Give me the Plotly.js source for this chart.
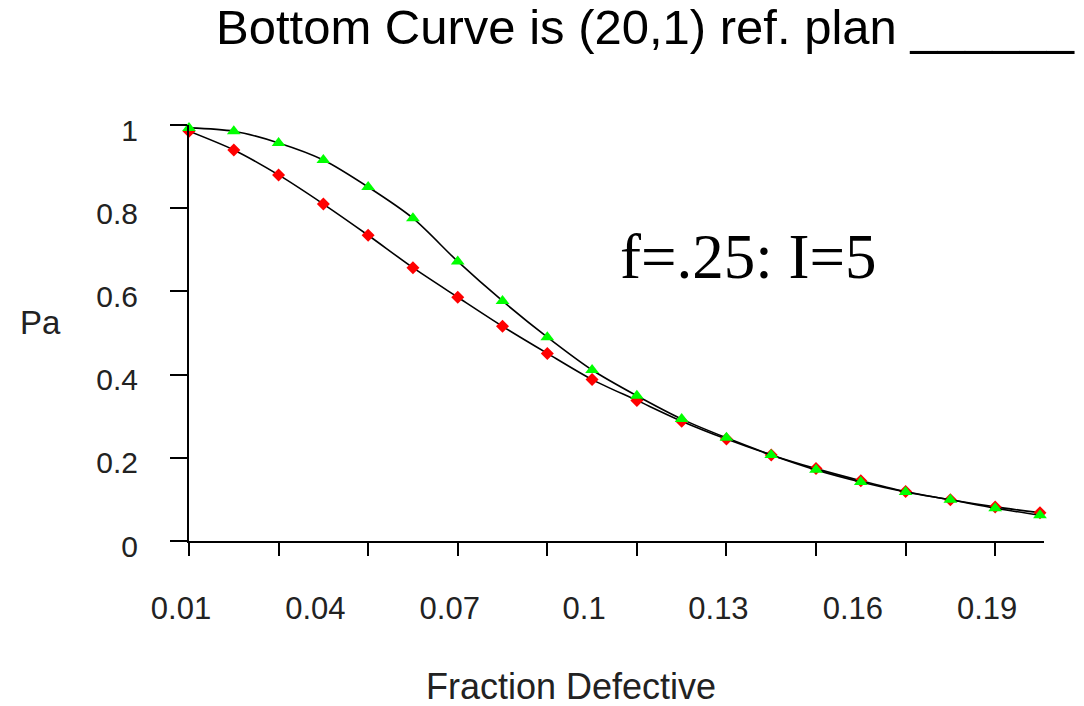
<!DOCTYPE html>
<html>
<head>
<meta charset="utf-8">
<script src="https://cdn.plot.ly/plotly-3.0.1.min.js"></script>
<style>
  html, body { margin: 0; padding: 0; background: #fff; }
  #chart { width: 1084px; height: 706px; }
</style>
</head>
<body>
<div id="chart"></div>
<script>
// Fraction defective (x) values
const fractionDefective = [0.01, 0.02, 0.03, 0.04, 0.05, 0.06, 0.07, 0.08, 0.09, 0.10,
                           0.11, 0.12, 0.13, 0.14, 0.15, 0.16, 0.17, 0.18, 0.19, 0.20];
// Bottom curve: (20,1) reference plan
const paReference = [0.985, 0.940, 0.880, 0.810, 0.735, 0.657, 0.586, 0.516, 0.451, 0.388,
                     0.338, 0.288, 0.245, 0.207, 0.174, 0.145, 0.119, 0.099, 0.082, 0.068];
// Top curve: f=.25, I=5
const paSkipLot = [0.993, 0.985, 0.957, 0.916, 0.851, 0.776, 0.672, 0.577, 0.490, 0.411,
                   0.349, 0.293, 0.248, 0.207, 0.171, 0.142, 0.118, 0.099, 0.079, 0.062];
// Axis tick labels
const xTickVals = [0.01, 0.04, 0.07, 0.10, 0.13, 0.16, 0.19];
const xTickText = ["0.01", "0.04", "0.07", "0.1", "0.13", "0.16", "0.19"];
const xTickMarks = [0.01, 0.03, 0.05, 0.07, 0.09, 0.11, 0.13, 0.15, 0.17, 0.19];
const yTickVals = [0, 0.2, 0.4, 0.6, 0.8, 1];
const yTickText = ["0", "0.2", "0.4", "0.6", "0.8", "1"];

const sans = "Arial, 'Liberation Sans', sans-serif";
const xRange = [0.01, 0.2009];

const traces = [
  {
    x: fractionDefective, y: paReference, type: 'scatter', mode: 'lines+markers',
    line: { color: '#000000', width: 1.6, shape: 'spline', smoothing: 0.8 },
    marker: { symbol: 'diamond', size: 10, color: '#ff0000' },
    cliponaxis: false, showlegend: false, hoverinfo: 'x+y'
  },
  {
    x: fractionDefective, y: paSkipLot, type: 'scatter', mode: 'lines+markers',
    line: { color: '#000000', width: 1.6, shape: 'spline', smoothing: 0.8 },
    marker: { symbol: 'triangle-up', size: 12, color: '#00ff00' },
    cliponaxis: false, showlegend: false, hoverinfo: 'x+y'
  },
  {
    x: [xRange[0]], y: [null], xaxis: 'x2', yaxis: 'y', type: 'scatter', mode: 'markers',
    showlegend: false, hoverinfo: 'skip'
  }
];

const layout = {
  width: 1084, height: 706,
  paper_bgcolor: '#ffffff', plot_bgcolor: '#ffffff',
  margin: { l: 189, r: 40, t: 125, b: 165 },
  showlegend: false,
  title: {
    text: 'Bottom Curve is (20,1) ref. plan ______',
    font: { family: sans, size: 49, color: '#000000' },
    xref: 'container', yref: 'container',
    x: 216 / 1084, xanchor: 'left',
    y: 1 - 27 / 706, yanchor: 'middle'
  },
  xaxis: {
    type: 'linear', range: xRange, fixedrange: true,
    showgrid: false, zeroline: false,
    showline: true, linecolor: '#000000', linewidth: 2,
    tickmode: 'array', tickvals: xTickVals, ticktext: xTickText,
    ticks: '', ticklabelstandoff: 39, ticklabelshift: -8,
    tickfont: { family: sans, size: 31, color: '#222222' }
  },
  xaxis2: {
    type: 'linear', range: xRange, overlaying: 'x', anchor: 'y', side: 'bottom',
    fixedrange: true, showgrid: false, zeroline: false, showline: false,
    tickmode: 'array', tickvals: xTickMarks,
    ticks: 'outside', ticklen: 14, tickwidth: 2, tickcolor: '#000000',
    showticklabels: false
  },
  yaxis: {
    range: [0, 1], fixedrange: true,
    showgrid: false, zeroline: false,
    showline: true, linecolor: '#000000', linewidth: 2,
    tickmode: 'array', tickvals: yTickVals, ticktext: yTickText,
    ticks: 'outside', ticklen: 17, tickwidth: 2, tickcolor: '#000000',
    ticklabelstandoff: 26, ticklabelshift: 5,
    tickfont: { family: sans, size: 30, color: '#222222' }
  },
  annotations: [
    {
      text: 'Pa', xref: 'paper', yref: 'paper',
      x: (40 - 189) / 855, y: (541 - 322) / 416,
      xanchor: 'center', yanchor: 'middle', showarrow: false,
      font: { family: sans, size: 33, color: '#222222' }
    },
    {
      text: 'Fraction Defective', xref: 'paper', yref: 'paper',
      x: (571 - 189) / 855, y: (541 - 686) / 416,
      xanchor: 'center', yanchor: 'middle', showarrow: false,
      font: { family: sans, size: 36, color: '#222222' }
    },
    {
      text: 'f=.25: I=5', xref: 'paper', yref: 'paper',
      x: (748 - 189) / 855, y: (541 - 257) / 416,
      xanchor: 'center', yanchor: 'middle', showarrow: false,
      font: { family: "'Times New Roman', 'Liberation Serif', serif", size: 63, color: '#000000' }
    }
  ]
};

Plotly.newPlot('chart', traces, layout, { staticPlot: true, displayModeBar: false });
</script>
</body>
</html>
